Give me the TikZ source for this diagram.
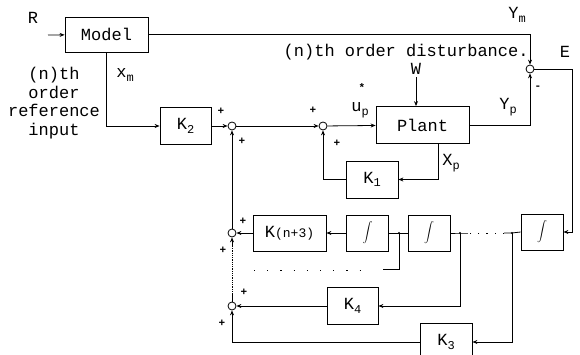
\documentclass[tikz,border=0pt]{standalone}
\usepackage{fontspec}
\setmonofont{Liberation Mono}
\usetikzlibrary{positioning,arrows.meta}
\newcommand{\lowsub}[1]{\raisebox{-0.4ex}{\fontsize{12}{12}\selectfont #1}}

\begin{document}
\begin{tikzpicture}[
    x=1pt,y=-1pt,
    >={Stealth[length=5pt,width=4pt]},
    line width=0.8pt,
    font=\ttfamily\fontsize{17}{19}\selectfont,
    block/.style={draw, minimum height=37pt, inner sep=0pt},
    intblock/.style={block, minimum width=42pt, minimum height=36pt},
    sumnode/.style={draw, circle, inner sep=0pt, minimum size=8pt},
    sgn/.style={font=\ttfamily\bfseries\fontsize{11}{11}\selectfont, inner sep=0pt},
    jdot/.style={circle, fill, inner sep=0pt, minimum size=2.4pt}
]
    \clip (0,0) rectangle (580,355);
    \useasboundingbox (0,0) rectangle (580,355);

    % forward path
    \node[block, minimum width=83pt, minimum height=35pt] (model) at (106.5,34.5) {Model};
    \node[block, minimum width=51pt] (k2)    at (185.5,126) {K\lowsub{2}};
    \node[sumnode]                   (s1)    at (232,126)   {};
    \node[sumnode]                   (s2)    at (323,126)   {};
    \node[block, minimum width=93pt] (plant) at (422.5,125) {Plant};
    \node[sumnode]                   (se)    at (530,69)    {};
    \node[block, minimum width=52pt] (k1)    at (372,179.5) {K\lowsub{1}};

    % integrator chain
    \node[intblock]                  (int3)  at (542,232)   {$\displaystyle\int$};
    \node[intblock]                  (int2)  at (429,233)   {$\displaystyle\int$};
    \node[intblock]                  (int1)  at (367.5,233) {$\displaystyle\int$};
    \node[block, minimum width=73pt, minimum height=36pt] (kn3) at (289.5,233)
        {K{\fontsize{13}{13}\selectfont(n+3)}};
    \node[sumnode]                   (s3)    at (232,233)   {};
    \node[block, minimum width=51pt] (k4)    at (352.5,306) {K\lowsub{4}};
    \node[sumnode]                   (s4)    at (232,306)   {};
    \node[block, minimum width=52pt, minimum height=38pt] (k3) at (446,342) {K\lowsub{3}};

    \coordinate (rin)  at (48,35);
    \coordinate (wtop) at (416,77);
    \coordinate (ecor) at (572,69);
    \coordinate (j1)   at (399,233);
    \coordinate (j2)   at (460,233);
    \coordinate (j3)   at (512,233);
    \coordinate (dend) at (383,269);
    \coordinate (dl)   at (254,270);
    \coordinate (dr)   at (360,270);

    % labels
    \node at (33,18)  {R};
    \node at (125,75) {x\lowsub{m}};
    \node[align=center, font=\ttfamily\fontsize{17}{18.5}\selectfont] at (54,103)
        {(n)th\\order\\reference\\input};
    \node[anchor=west] at (280,52) {(n)th order disturbance.};
    \node at (416,69)  {W};
    \node at (360,110) {u\lowsub{p}};
    \node[sgn] at (362,88) {*};
    \node at (517,15)  {Y\lowsub{m}};
    \node at (565,52)  {E};
    \node at (508,107) {Y\lowsub{p}};
    \node at (451,163) {X\lowsub{p}};

    % signs
    \node[sgn] at (221,111) {+};
    \node[sgn] at (242,141) {+};
    \node[sgn] at (313,110) {+};
    \node[sgn] at (337,143) {+};
    \node[sgn] at (538,88)  {-};
    \node[sgn] at (243,221) {+};
    \node[sgn] at (223,250) {+};
    \node[sgn] at (244,292) {+};
    \node[sgn] at (222,323) {+};

    % connectors
    \draw[->] (rin) -- (model);
    \draw[->] (model.east) -| (se.north);
    \draw[->] (model.south) |- (k2);
    \draw[->] (k2) -- (s1);
    \draw[->] (s1) -- (s2);
    \draw[->] (s2) -- (plant);
    \draw[->] (wtop) -- (wtop |- plant.north);
    \draw[->] (plant.east) -| (se.south);
    \draw[->] ([xshift=15.5pt]plant.south) |- (k1.east);
    \draw[->] (k1.west) -| (s2.south);
    \draw[->] (se.east) -- (ecor) |- (int3.east);

    \draw (int3.west) -- (j3) -- ([xshift=-8pt]j3);
    \draw[dash pattern=on 1.2pt off 7pt] ([xshift=-8pt]j3) -- ([xshift=8pt]j2);
    \draw ([xshift=8pt]j2) -- (j2) -- (int2.east);
    \draw (int2.west) -- (int1.east);
    \draw[->] (int1.west) -- (kn3.east);
    \draw[->] (kn3.west) -- (s3.east);

    \draw (j1) |- (dend);
    \draw[dash pattern=on 1.2pt off 12pt] (dl) -- (dr);
    \draw[->] (j2) |- (k4.east);
    \draw[->] (k4.west) -- (s4.east);
    \draw[->] (j3) |- (k3.east);
    \draw[->] (k3.west) -| (s4.south);

    \draw (s4.north) -- ++(0,-8) coordinate (m1);
    \draw[densely dotted] (m1) -- ([yshift=-10pt]s3.south);
    \draw[->] ([yshift=-10pt]s3.south) -- (s3.south);
    \draw[->] (s3.north) -- (s1.south);

    \foreach \j in {j1,j2,j3}
        \node[jdot] at (\j) {};
\end{tikzpicture}
\end{document}
